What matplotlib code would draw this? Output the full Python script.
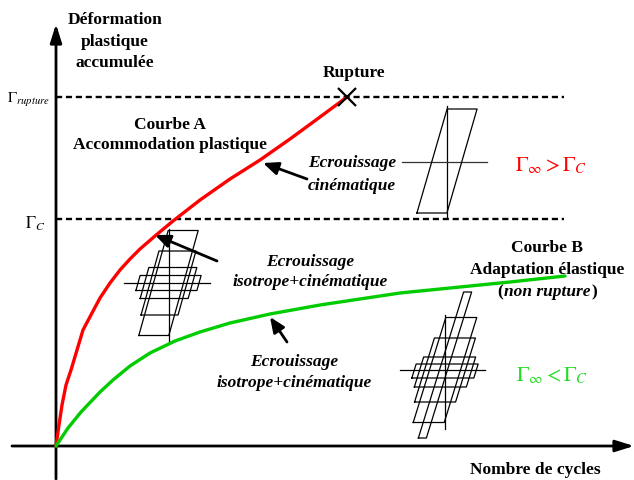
import matplotlib
matplotlib.use("Agg")
import matplotlib.pyplot as plt
import numpy as np

plt.rcParams['font.family'] = ['Liberation Serif', 'DejaVu Serif']
plt.rcParams['mathtext.fontset'] = 'stix'

# ---- data (schematic, in picture units) ----
red_x = [56, 59, 62, 66, 71, 77, 83, 92, 100, 110, 120, 130, 140, 155, 173, 200, 230, 260, 290, 320, 347]
red_y = [446, 425, 405, 385, 370, 350, 330, 313, 298, 283, 270, 259, 249, 236, 221, 200, 179, 160, 139, 117, 97]

green_x = [56, 68, 81, 100, 113, 130, 150, 175, 200, 230, 270, 320, 400, 450, 510, 565]
green_y = [446, 428, 412, 392, 380, 366, 353, 341, 332, 323, 314, 305, 293, 288, 282, 276]

gamma_rupture = 97
gamma_c = 219
rupture_pt = (347, 97)

# hysteresis loops: centre, heights, widths
loopA_c = (447, 161); loopA_h = [104]; loopA_w = [30]
loopB_c = (168.5, 283); loopB_h = [105, 64, 31, 15]; loopB_w = [30, 37, 48, 61]
loopC_cx = 445; loopC_cy = [365, 370, 370, 372, 371]
loopC_h = [146, 105, 64, 30, 14]; loopC_w = [8, 31, 41, 52, 62]

GREEN = '#00cc00'

fig = plt.figure(figsize=(6.34, 4.8), dpi=100)
ax = fig.add_axes([0, 0, 1, 1])
ax.set_xlim(0, 634)
ax.set_ylim(480, 0)
ax.axis('off')

# axes arrows
ax.annotate('', xy=(56, 24), xytext=(56, 479),
            arrowprops=dict(arrowstyle='-|>,head_length=0.8,head_width=0.25', lw=2, color='black',
                            shrinkA=0, shrinkB=0, mutation_scale=14))
ax.annotate('', xy=(634, 446), xytext=(12, 446),
            arrowprops=dict(arrowstyle='-|>,head_length=0.8,head_width=0.25', lw=2, color='black',
                            shrinkA=0, shrinkB=0, mutation_scale=14))

# dashed levels
for yv in (gamma_rupture, gamma_c):
    ax.plot([56, 564], [yv, yv], color='black', lw=1.7, dashes=(2.6, 1.6))

# curves
ax.plot(red_x, red_y, color='#ff0000', lw=2.4, solid_capstyle='round', zorder=3)
ax.plot(green_x, green_y, color=GREEN, lw=2.4, solid_capstyle='round', zorder=3)
ax.plot(*rupture_pt, marker='x', color='black', ms=13, mew=1.6, zorder=4)


def loop(cx, cy, h, w, s):
    xt = cx + s * h / 2
    xb = cx - s * h / 2
    yt = cy - h / 2
    yb = cy + h / 2
    xs = [xb - w / 2, xb + w / 2, xt + w / 2, xt - w / 2, xb - w / 2]
    ys = [yb, yb, yt, yt, yb]
    ax.plot(xs, ys, color='black', lw=0.9, zorder=5)


# loop A (kinematic)
ax.plot([loopA_c[0], loopA_c[0]], [106, 218], color='black', lw=0.9)
ax.plot([402, 487], [loopA_c[1] + 1, loopA_c[1] + 1], color='#333333', lw=0.9)
for h, w in zip(loopA_h, loopA_w):
    loop(loopA_c[0], loopA_c[1], h, w, 0.29)

# loop B
ax.plot([loopB_c[0], loopB_c[0]], [229, 341], color='black', lw=0.9)
ax.plot([124, 210], [loopB_c[1], loopB_c[1]], color='black', lw=0.9)
for h, w in zip(loopB_h, loopB_w):
    loop(loopB_c[0], loopB_c[1], h, w, 0.28)

# loop C
ax.plot([loopC_cx, loopC_cx], [315, 429], color='black', lw=0.9)
ax.plot([400, 485], [370, 370], color='black', lw=0.9)
for cy, h, w in zip(loopC_cy, loopC_h, loopC_w):
    loop(loopC_cx, cy, h, w, 0.31)

# arrows
arr = dict(arrowstyle='-|>,head_length=0.7,head_width=0.3', lw=2, color='black',
           shrinkA=0, shrinkB=0, mutation_scale=13)
ax.annotate('', xy=(263, 163), xytext=(307, 179), arrowprops=arr)
ax.annotate('', xy=(155, 235), xytext=(217, 261), arrowprops=arr)
ax.annotate('', xy=(270, 317), xytext=(287, 342), arrowprops=arr)

# texts
fs = 12.5


def lines(cx, ys, strs, **kw):
    for y, s in zip(ys, strs):
        ax.text(cx, y, s, ha='center', va='center', fontsize=fs, **kw)


lines(115, [20, 42, 63], ['Déformation', 'plastique', 'accumulée'], fontweight='bold')
ax.text(354, 73, 'Rupture', ha='center', va='center', fontsize=fs, fontweight='bold')
lines(170, [125, 145], ['Courbe A', 'Accommodation plastique'], fontweight='bold')
lines(352, [163, 186], ['Ecrouissage', 'cinématique'], fontweight='bold', style='italic')
lines(310, [262, 282], ['Ecrouissage', 'isotrope+cinématique'], fontweight='bold', style='italic')
lines(294, [362, 383], ['Ecrouissage', 'isotrope+cinématique'], fontweight='bold', style='italic')
lines(547, [248, 270], ['Courbe B', 'Adaptation élastique'], fontweight='bold')

# "(non rupture)" with mixed styles, centred at x=547
pieces = [('(', 'normal'), ('non rupture', 'italic'), (')', 'normal')]
fig.canvas.draw()
rend = fig.canvas.get_renderer()
objs = []
for s, st in pieces:
    objs.append(ax.text(0, 292, s, ha='left', va='center', fontsize=fs,
                        fontweight='bold', style=st))
widths = [o.get_window_extent(rend).width for o in objs]
total = sum(widths) + 2
x0 = 547 - total / 2
for o, w in zip(objs, widths):
    o.set_x(x0)
    x0 += w + 1

ax.text(535, 470, 'Nombre de cycles', ha='center', va='center', fontsize=fs, fontweight='bold')

ax.text(28, 100, r'$\Gamma_{rupture}$', ha='center', va='center', fontsize=11)
ax.text(35, 224, r'$\Gamma_C$', ha='center', va='center', fontsize=12)
ax.text(551, 166, r'$\Gamma_\infty > \Gamma_C$', ha='center', va='center', fontsize=15, color='#ff0000')
ax.text(552, 376, r'$\Gamma_\infty < \Gamma_C$', ha='center', va='center', fontsize=15, color='#22dd22')

fig.savefig('out.png', dpi=100)
